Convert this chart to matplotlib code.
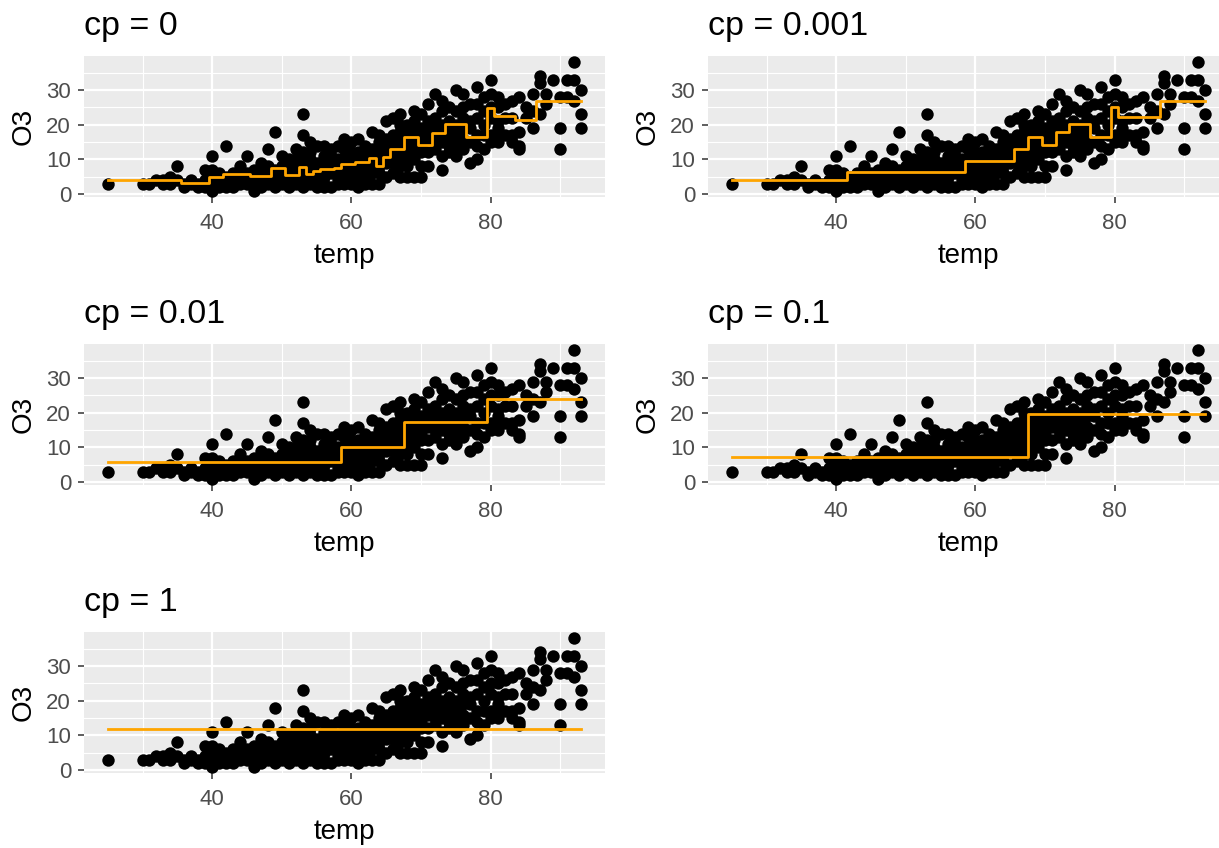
import matplotlib
matplotlib.use("Agg")
import matplotlib.pyplot as plt
from matplotlib.ticker import FixedLocator

plt.rcParams['font.family'] = ['Liberation Sans', 'DejaVu Sans']

# ---- data (temp, O3) ----
temp = [25, 30, 31, 32, 33, 33, 34, 34, 35, 35, 36, 36, 37, 37, 38, 38,
        39, 39, 39,
        40, 40, 40, 40, 40, 40,
        41, 41, 41,
        42, 42, 42, 42,
        43, 43, 43,
        44, 44, 44,
        45, 45, 45, 45, 45,
        46, 46, 46, 46,
        47, 47, 47, 47,
        48, 48, 48, 48, 48,
        49, 49, 49, 49, 49,
        50, 50, 50, 50, 50,
        51, 51, 51, 51, 51,
        52, 52, 52, 52, 52, 52,
        53, 53, 53, 53, 53, 53, 53,
        54, 54, 54, 54, 54, 54,
        55, 55, 55, 55, 55, 55,
        56, 56, 56, 56, 56, 56, 56,
        57, 57, 57, 57, 57, 57,
        58, 58, 58, 58, 58, 58,
        59, 59, 59, 59, 59, 59, 59,
        60, 60, 60, 60, 60, 60, 60,
        61, 61, 61, 61, 61, 61, 61,
        62, 62, 62, 62, 62, 62,
        63, 63, 63, 63, 63, 63, 63,
        64, 64, 64, 64, 64, 64, 64,
        65, 65, 65, 65, 65, 65, 65,
        66, 66, 66, 66, 66, 66, 66,
        67, 67, 67, 67, 67, 67, 67, 67,
        68, 68, 68, 68, 68, 68,
        69, 69, 69, 69, 69, 69, 69,
        70, 70, 70, 70, 70, 70, 70,
        71, 71, 71, 71, 71, 71,
        72, 72, 72, 72, 72, 72,
        73, 73, 73, 73, 73, 73, 73,
        74, 74, 74, 74, 74, 74,
        75, 75, 75, 75, 75, 75,
        76, 76, 76, 76, 76, 76,
        77, 77, 77, 77, 77,
        78, 78, 78, 78, 78, 78,
        79, 79, 79, 79, 79,
        80, 80, 80, 80, 80, 80,
        81, 81, 81, 81, 81, 81,
        82, 82, 82,
        83, 83, 83, 83,
        84, 84, 84, 84,
        85, 85,
        86, 86, 86,
        87, 87, 87,
        88, 88,
        89,
        90, 90, 90,
        91, 91,
        92, 92, 92,
        93, 93, 93]

o3 = [3, 3, 3, 4, 3, 4, 5, 3, 8, 4, 2, 3, 3, 4, 2, 3,
      7, 2, 4,
      11, 7, 1, 3, 5, 6,
      4, 2, 6,
      14, 5, 3, 2,
      2, 6, 4,
      8, 3, 5,
      11, 6, 4, 3, 5,
      1, 7, 3, 5,
      4, 9, 6, 2,
      13, 6, 3, 8, 5,
      18, 4, 7, 2, 5,
      11, 6, 8, 3, 5,
      2, 10, 7, 4, 6,
      8, 13, 6, 3, 5, 10,
      23, 17, 12, 2, 6, 4, 9,
      15, 10, 5, 7, 3, 12,
      2, 14, 8, 6, 4, 9,
      14, 11, 7, 2, 5, 10, 3,
      13, 2, 9, 6, 7, 11,
      14, 10, 4, 6, 8, 3,
      16, 10, 13, 5, 7, 8, 3,
      12, 9, 6, 3, 11, 15, 7,
      16, 10, 7, 4, 12, 9, 2,
      14, 11, 8, 5, 12, 3,
      18, 13, 9, 6, 7, 11, 3,
      15, 10, 6, 12, 8, 3, 17,
      21, 16, 12, 9, 5, 14, 10,
      22, 17, 13, 9, 6, 11, 15,
      23, 16, 13, 10, 18, 5, 8, 20,
      20, 14, 11, 17, 5, 8,
      24, 18, 13, 15, 5, 21, 10,
      19, 14, 5, 23, 17, 12, 8,
      26, 21, 16, 12, 8, 18,
      29, 22, 17, 13, 20, 15,
      27, 20, 7, 15, 24, 11, 18,
      25, 19, 14, 21, 12, 16,
      30, 24, 11, 17, 20, 14,
      29, 22, 16, 13, 19, 25,
      26, 19, 15, 9, 21,
      31, 22, 10, 17, 14, 26,
      24, 17, 13, 20, 28,
      33, 29, 17, 22, 25, 15,
      28, 19, 15, 21, 25, 17,
      22, 26, 17,
      27, 22, 17, 15,
      28, 18, 14, 13,
      22, 25,
      29, 19, 24,
      34, 32, 23,
      26, 29,
      33,
      19, 13, 28,
      33, 28,
      38, 27, 33,
      30, 23, 19]

# ---- fitted step functions (split points and leaf means) ----
cp_labels = ["cp = 0", "cp = 0.001", "cp = 0.01", "cp = 0.1", "cp = 1"]

breaks_cp0 = [35.5, 39.5, 41.5, 45.5, 48.5, 50.5, 52.5, 53.5, 54.5, 55.5, 57.5,
              58.5, 60.5, 62.5, 63.5, 64.5, 65.5, 67.5, 69.5, 71.5, 73.5, 76.5,
              79.5, 80.5, 83.5, 86.5]
levels_cp0 = [4.2, 3.2, 4.8, 5.9, 5.3, 7.5, 5.6, 7.8, 5.9, 6.6, 7.1, 7.4, 8.7,
              9.2, 10.5, 8.2, 10.7, 13.1, 16.6, 14.3, 17.7, 20.1, 16.6, 24.8,
              22.6, 21.3, 26.9]
breaks_cp001 = [41.5, 58.5, 65.5, 67.5, 69.5, 71.5, 73.5, 76.5, 79.5, 80.5, 86.5]
levels_cp001 = [4.2, 6.3, 9.5, 13.1, 16.6, 14.3, 17.9, 20.1, 16.6, 25.0, 22.1, 26.9]
breaks_cp01 = [58.5, 67.5, 79.5]
levels_cp01 = [5.8, 10.0, 17.2, 24.0]
breaks_cp1 = [67.5]
levels_cp1 = [7.2, 19.7]
breaks_cp10 = []
levels_cp10 = [11.8]

fits = [(breaks_cp0, levels_cp0), (breaks_cp001, levels_cp001),
        (breaks_cp01, levels_cp01), (breaks_cp1, levels_cp1),
        (breaks_cp10, levels_cp10)]

x_major = [40, 60, 80]
x_minor = [30, 50, 70, 90]
y_major = [0, 10, 20, 30]
y_minor = [5, 15, 25, 35]

# ---- layout ----
W, H = 1219, 848
fig = plt.figure(figsize=(W / 100, H / 100), dpi=100)

pw, ph = 521, 141
lefts = [84, 708]
tops = [56, 344, 632]

tmin, tmax = min(temp), max(temp)
omin, omax = min(o3), max(o3)
xpad = (tmax - tmin) * 0.05
ypad = (omax - omin) * 0.05

for i, (lab, (br, lv)) in enumerate(zip(cp_labels, fits)):
    r, c = divmod(i, 2)
    ax = fig.add_axes([lefts[c] / W, (H - tops[r] - ph) / H, pw / W, ph / H])
    ax.set_facecolor('#EBEBEB')
    for s in ax.spines.values():
        s.set_visible(False)
    ax.set_xlim(tmin - xpad, tmax + xpad)
    ax.set_ylim(omin - ypad, omax + ypad)
    ax.xaxis.set_major_locator(FixedLocator(x_major))
    ax.xaxis.set_minor_locator(FixedLocator(x_minor))
    ax.yaxis.set_major_locator(FixedLocator(y_major))
    ax.yaxis.set_minor_locator(FixedLocator(y_minor))
    ax.grid(which='major', color='white', linewidth=1.6)
    ax.grid(which='minor', color='white', linewidth=0.8)
    ax.set_axisbelow(True)
    ax.tick_params(which='major', length=4.3, width=1.1, color='#333333',
                   labelcolor='#4D4D4D', labelsize=16)
    ax.tick_params(axis='x', which='major', pad=7)
    ax.tick_params(axis='y', which='major', pad=5)
    ax.tick_params(which='minor', length=0)

    ax.scatter(temp, o3, s=80, color='black', linewidths=0, zorder=3)

    xs = [tmin] + list(br) + [tmax]
    ys = list(lv) + [lv[-1]]
    ax.step(xs, ys, where='post', color='#FFA500', linewidth=2.0, zorder=4)

    ax.set_xlabel('temp', fontsize=20, labelpad=7)
    ax.set_ylabel('O3', fontsize=20, labelpad=7)
    ax.set_title(lab, loc='left', fontsize=24.5, pad=15)

fig.savefig('out.png', dpi=100)
